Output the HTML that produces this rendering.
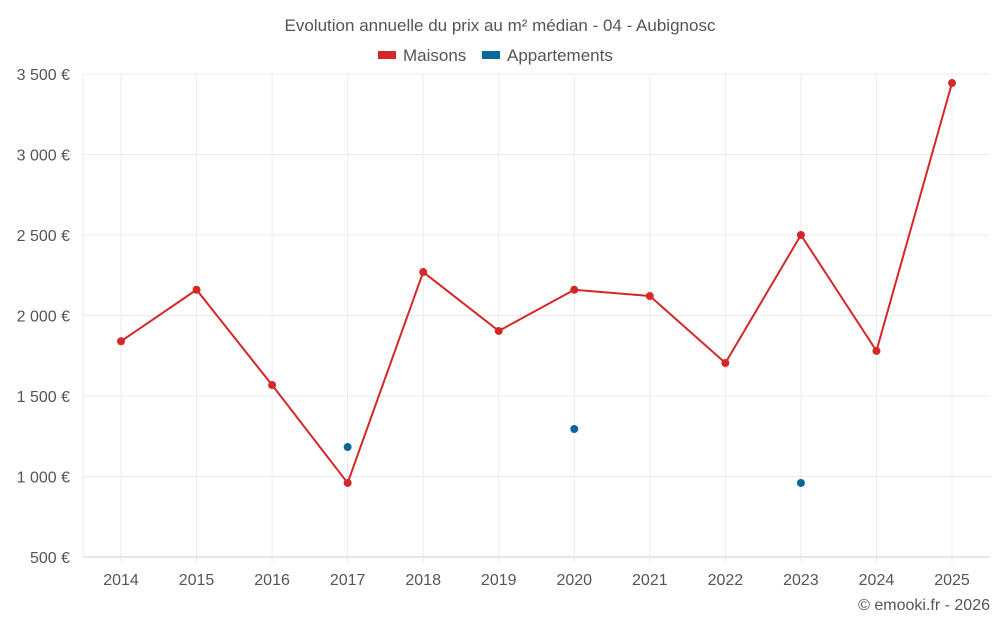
<!DOCTYPE html>
<html><head><meta charset="utf-8"><style>
body{margin:0;background:#fff;font-family:"Liberation Sans",sans-serif}
svg text{font-family:"Liberation Sans",sans-serif;fill:#555}
</style></head><body>
<svg id="c" width="1000" height="625">
<text x="500" y="31" text-anchor="middle" font-size="17">Evolution annuelle du prix au m² médian - 04 - Aubignosc</text>
<g>
<g><rect x="378" y="51" width="18" height="8" fill="#d62728"/><text x="403" y="61" font-size="17">Maisons</text></g>
<g><rect x="482" y="51" width="18" height="8" fill="#08679c"/><text x="507" y="61" font-size="17">Appartements</text></g>
</g>
<g id="grid"></g><g id="marks"></g>
<text x="990" y="610" text-anchor="end" font-size="16">© emooki.fr - 2026</text>
</svg>
<script>
const years=[2014,2015,2016,2017,2018,2019,2020,2021,2022,2023,2024,2025];
const maisons=[1840,2160,1568,960,2270,1904,2160,2121,1705,2500,1780,3444];
const appartements=[null,null,null,1183,null,null,1295,null,null,960,null,null];
const yTicks=[500,1000,1500,2000,2500,3000,3500];
const yTickLabels=["500 €","1 000 €","1 500 €","2 000 €","2 500 €","3 000 €","3 500 €"];
const NS="http://www.w3.org/2000/svg";
const L=83,R=990,T=74,B=557;
const x=i=>121+i*(952-121)/(years.length-1);
const y=v=>B-(v-500)/3000*(B-T);
const g=document.getElementById('grid'),m=document.getElementById('marks');
function mk(t,a,p){const e=document.createElementNS(NS,t);for(const k in a)e.setAttribute(k,a[k]);p.appendChild(e);return e;}
yTicks.forEach((v,i)=>{
 const l=mk('line',{x1:L,x2:R,y1:y(v),y2:y(v),stroke:i==0?'#ccc':'#ebebeb'},g);
 
 
 const t=mk('text',{x:70,y:y(v)+6,'text-anchor':'end','font-size':16},g);t.textContent=yTickLabels[i];
 
 
});
mk('line',{x1:L,x2:L,y1:T,y2:B,stroke:'#ebebeb'},g);
years.forEach((yr,i)=>{
 const l=mk('line',{x1:x(i),x2:x(i),y1:T,y2:B+6,stroke:'#ebebeb'},g);
 
 
 const t=mk('text',{x:x(i),y:585,'text-anchor':'middle','font-size':16},g);t.textContent=yr;
 
 
});
const p=mk('polyline',{points:maisons.map((v,i)=>x(i)+','+y(v)).join(' '),fill:'none',stroke:'#d62728','stroke-width':2},m);


maisons.forEach((v,i)=>{const c=mk('circle',{cx:x(i),cy:y(v),r:4,fill:'#d62728'},m);
 
 });
appartements.forEach((v,i)=>{if(v==null)return;const c=mk('circle',{cx:x(i),cy:y(v),r:4,fill:'#08679c'},m);
 
 });
</script>
</body></html>
